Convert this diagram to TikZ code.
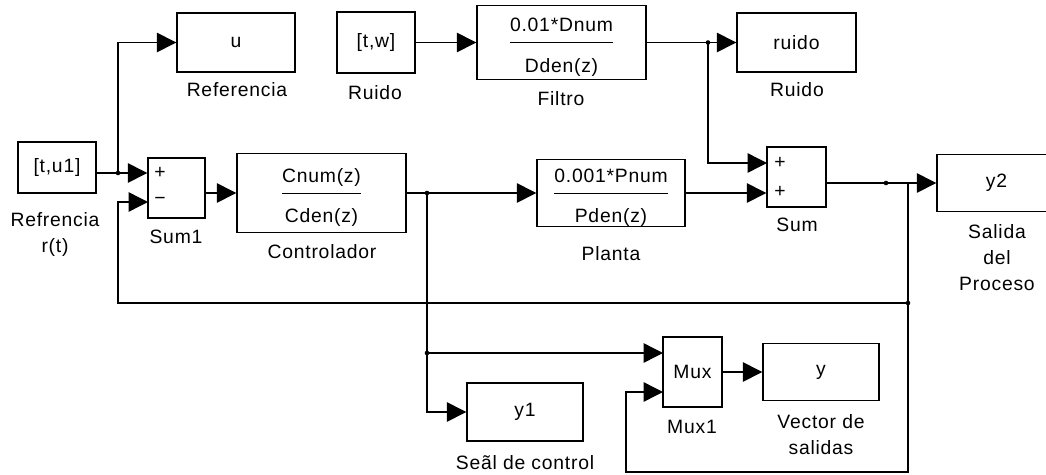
\documentclass[tikz,border=0pt]{standalone}
\usepackage{fontspec}
\setmainfont{Liberation Sans}[LetterSpace=4]
\usetikzlibrary{arrows.meta}
\setlength{\arrayrulewidth}{0.7pt}
\newcommand{\bfrac}[2]{\smash{\raisebox{6pt}{\begin{tabular}[t]{@{}c@{}}#1\\[1.3pt]\hline\rule{0pt}{16.5pt}#2\end{tabular}}}}
\tikzset{simu/.style={
  x=0.02cm,y=-0.02cm,
  >={Triangle[length=11pt,width=11pt]},line width=0.8pt,
  font=\fontsize{11}{14.8}\selectfont
},
bx/.style 2 args={draw,inner sep=0pt,minimum width=#1*0.02cm,minimum height=#2*0.02cm},
lbl/.style={align=center,inner sep=0pt}}

\begin{document}
\begin{tikzpicture}[simu]
  \useasboundingbox (0,0) rectangle (1046,474);
  \node[bx={78}{51}] (tu1) at (57,167.5) {[t,u1]};
  \node[bx={57}{60}] (s1) at (176.5,188) {};
  \node[bx={169}{79}] (ctrl) at (321.5,193) {\bfrac{Cnum(z)}{Cden(z)}};
  \node[bx={118}{59}] (uref) at (236,42.5) {u};
  \node[bx={78}{61}] (tw) at (376,42.5) {[t,w]};
  \node[bx={169}{74}] (filt) at (561.5,42.5) {\bfrac{0.01*Dnum}{Dden(z)}};
  \node[bx={119}{59}] (ruido) at (796.5,42.5) {ruido};
  \node[bx={148}{67}] (plant) at (611,193) {\bfrac{0.001*Pnum}{Pden(z)}};
  \node[bx={59}{60}] (sum) at (796.5,177) {};
  \node[bx={119}{57}] (y2) at (996.5,183) {y2};
  \node[bx={59}{70}] (mux) at (692.5,372) {Mux};
  \node[bx={116}{57}] (yv) at (821,372) {y};
  \node[bx={116}{58}] (y1) at (525,412) {y1};
  \node (s1sa) at (160,173) {+};
  \node (s1sb) at (160,201) {−};
  \node (ssa) at (780,163) {+};
  \node (ssb) at (780,192) {+};
  \coordinate (jref) at (118,173);
  \coordinate (s1m) at (148,202);
  \coordinate (jctrl) at (427,193);
  \coordinate (jmux) at (427,353);
  \coordinate (mux1) at (663,353);
  \coordinate (mux2) at (663,392);
  \coordinate (jnoise) at (708,42.5);
  \coordinate (sumin) at (767,163);
  \coordinate (jout) at (908,183);
  \coordinate (jfb) at (908,303);
  \coordinate (lp) at (626,472);
  \draw[->] (tu1.east |- jref) -- (s1.west |- jref);
  \draw[->] (jref) |- (uref.west);
  \draw[->] (s1.east |- ctrl.west) -- (ctrl.west);
  \draw[->] (ctrl.east) -- (plant.west);
  \draw[->] (jctrl) |- (y1.west);
  \draw[->] (jmux) -- (mux1);
  \draw[->] (tw.east) -- (filt.west);
  \draw[->] (filt.east) -- (ruido.west);
  \draw[->] (jnoise) |- (sumin);
  \draw[->] (plant.east) -- (sum.west |- plant.east);
  \draw[->] (sum.east |- y2.west) -- (y2.west);
  \draw[->] (jfb) -| (jref |- s1m) -- (s1m);
  \draw[->] (jout) |- (lp) |- (mux2);
  \draw[->] (mux.east) -- (yv.west);
  \fill (jref) circle (1.3pt);
  \fill (jctrl) circle (1.3pt);
  \fill (jmux) circle (1.3pt);
  \fill (jnoise) circle (1.3pt);
  \fill (886,183) circle (1.3pt);
  \fill (jfb) circle (1.3pt);
  \node[lbl] (lref) at (237,90) {Referencia};
  \node[lbl] (lrui) at (375,93) {Ruido};
  \node[lbl] (lfil) at (561,99) {Filtro};
  \node[lbl] (lrui2) at (797,90) {Ruido};
  \node[lbl] (ltu1) at (55,234) {Refrencia\\r(t)};
  \node[lbl] (ls1) at (176,237) {Sum1};
  \node[lbl] (lctrl) at (322,252) {Controlador};
  \node[lbl] (lplant) at (611,254) {Planta};
  \node[lbl] (lsum) at (797,225) {Sum};
  \node[lbl] (ly2) at (997,258) {Salida\\del\\Proceso};
  \node[lbl] (lmux) at (692,427) {Mux1};
  \node[lbl] (lyv) at (821,435) {Vector de\\salidas};
  \node[lbl] (ly1) at (525,463) {Seãl de control};
\end{tikzpicture}
\end{document}
